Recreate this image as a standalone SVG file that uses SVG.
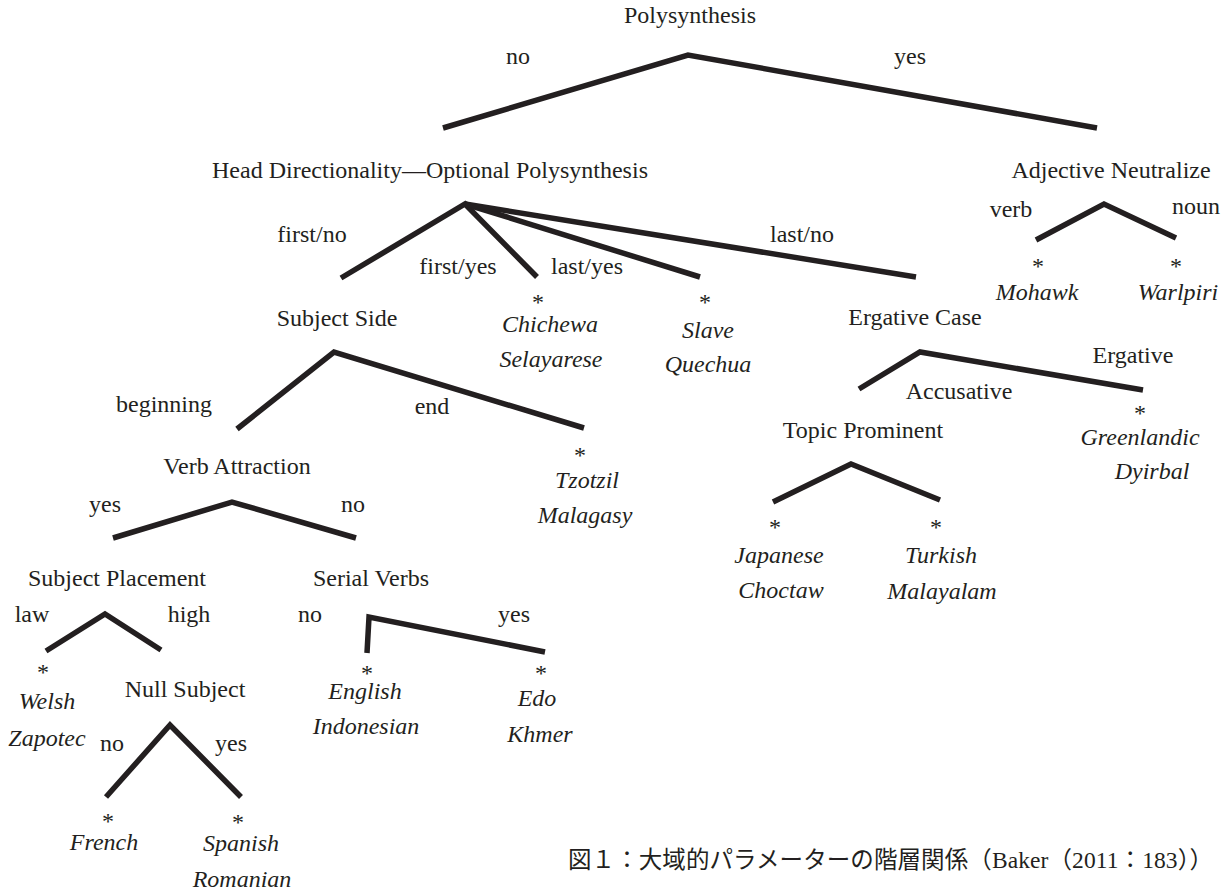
<svg xmlns="http://www.w3.org/2000/svg" width="1225" height="892" viewBox="0 0 1225 892">
<style>
text{font-family:'Liberation Serif','Times New Roman',serif;font-size:24px;fill:#231f20;text-anchor:middle}
.i{font-style:italic}
.cap{text-anchor:start;font-family:'Liberation Serif','Noto Sans CJK JP',serif;font-size:23.5px}
#edges path{fill:none;stroke:#231f20;stroke-width:5.5;stroke-linejoin:miter}
</style>
<rect width="1225" height="892" fill="#fff"/>
<g id="edges">
<path d="M443,128 L688,55 L1097,128"/>
<path d="M341,278 L465,204 L537,277"/>
<path d="M465,204 L700,277"/>
<path d="M465,204 L916,277"/>
<path d="M1036,240 L1104,204 L1176,238"/>
<path d="M237,429 L334,352 L584,428"/>
<path d="M113,538 L232,502 L356,538"/>
<path d="M46,651 L105,614 L161,650"/>
<path d="M106,797 L170,725 L241,797"/>
<path d="M367,653 L369,617 L545,652"/>
<path d="M859,389 L920,352 L1143,390"/>
<path d="M773,502 L851,464 L940,500"/>
</g>
<g id="labels">
<text x="518" y="64">no</text><text x="910" y="64">yes</text>
<text x="312" y="242">first/no</text><text x="458" y="274">first/yes</text>
<text x="587" y="274">last/yes</text><text x="802" y="242">last/no</text>
<text x="1011" y="217">verb</text><text x="1196" y="214">noun</text>
<text x="164" y="412">beginning</text><text x="432" y="414">end</text>
<text x="1133" y="363">Ergative</text><text x="959" y="399">Accusative</text>
<text x="105" y="512">yes</text><text x="353" y="512">no</text>
<text x="32" y="622">law</text><text x="189" y="622">high</text>
<text x="310" y="622">no</text><text x="514" y="622">yes</text>
<text x="112" y="751">no</text><text x="231" y="751">yes</text>
</g>
<g id="polysynthesis"><text x="690" y="23">Polysynthesis</text></g>
<g id="head-directionality"><text x="430" y="178">Head Directionality—Optional Polysynthesis</text></g>
<g id="adjective-neutralize"><text x="1111" y="178">Adjective Neutralize</text></g>
<g id="mohawk"><text x="1038" y="274">*</text><text class="i" x="1037" y="300">Mohawk</text></g>
<g id="warlpiri"><text x="1176" y="274">*</text><text class="i" x="1178" y="300">Warlpiri</text></g>
<g id="chichewa"><text x="538" y="310">*</text><text class="i" x="550" y="332">Chichewa</text><text class="i" x="551" y="367">Selayarese</text></g>
<g id="slave"><text x="705" y="310">*</text><text class="i" x="708" y="338">Slave</text><text class="i" x="708" y="372">Quechua</text></g>
<g id="subject-side"><text x="337" y="326">Subject Side</text></g>
<g id="ergative-case"><text x="915" y="325">Ergative Case</text></g>
<g id="tzotzil"><text x="580" y="463">*</text><text class="i" x="587" y="488">Tzotzil</text><text class="i" x="585" y="523">Malagasy</text></g>
<g id="verb-attraction"><text x="237" y="474">Verb Attraction</text></g>
<g id="greenlandic"><text x="1140" y="421">*</text><text class="i" x="1140" y="445">Greenlandic</text><text class="i" x="1152" y="479">Dyirbal</text></g>
<g id="topic-prominent"><text x="863" y="438">Topic Prominent</text></g>
<g id="japanese"><text x="775" y="535">*</text><text class="i" x="779" y="563">Japanese</text><text class="i" x="781" y="598">Choctaw</text></g>
<g id="turkish"><text x="936" y="535">*</text><text class="i" x="941" y="563">Turkish</text><text class="i" x="942" y="599">Malayalam</text></g>
<g id="subject-placement"><text x="117" y="586">Subject Placement</text></g>
<g id="serial-verbs"><text x="371" y="586">Serial Verbs</text></g>
<g id="welsh"><text x="43" y="680">*</text><text class="i" x="47" y="709">Welsh</text><text class="i" x="47" y="746">Zapotec</text></g>
<g id="null-subject"><text x="185" y="697">Null Subject</text></g>
<g id="english"><text x="367" y="681">*</text><text class="i" x="365" y="699">English</text><text class="i" x="366" y="734">Indonesian</text></g>
<g id="edo"><text x="541" y="681">*</text><text class="i" x="537" y="706">Edo</text><text class="i" x="540" y="742">Khmer</text></g>
<g id="french"><text x="108" y="829">*</text><text class="i" x="104" y="850">French</text></g>
<g id="spanish"><text x="238" y="830">*</text><text class="i" x="241" y="851">Spanish</text><text class="i" x="242" y="887">Romanian</text></g>
<g id="caption"><text class="cap" x="568" y="868" textLength="645" lengthAdjust="spacing">図１：大域的パラメーターの階層関係（Baker（2011：183））</text></g>
</svg>
